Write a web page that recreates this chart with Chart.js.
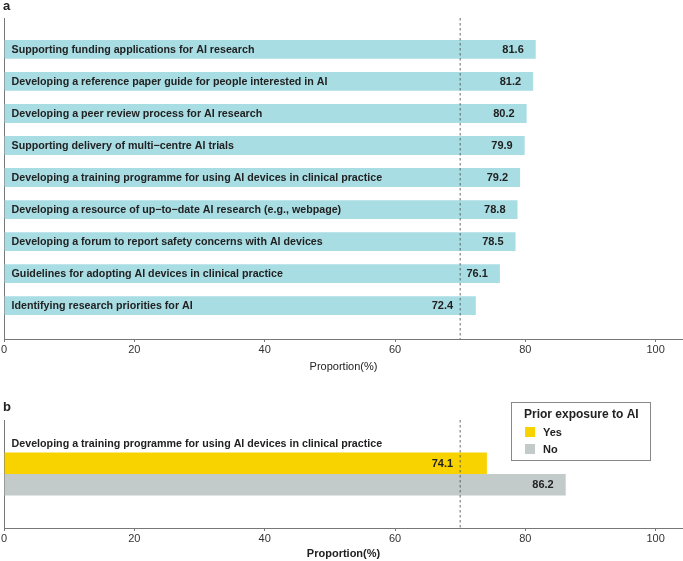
<!DOCTYPE html>
<html>
<head>
<meta charset="utf-8">
<script src="https://cdn.jsdelivr.net/npm/chart.js@4.4.1/dist/chart.umd.min.js"></script>
<style>
  body { margin: 0; background: #fff; width: 683px; height: 561px; position: relative; overflow: hidden; font-family: "Liberation Sans", Arial, sans-serif; }
  .panel { position: absolute; left: 0; width: 683px; }
  #wrapA { top: 0; height: 375px; }
  #wrapB { top: 375px; height: 186px; }
  .tag { position: absolute; left: 3px; font-weight: bold; font-size: 13px; line-height: 15px; color: #222; }
</style>
</head>
<body>
<div class="panel" id="wrapA"><canvas id="chartA"></canvas></div>
<div class="panel" id="wrapB"><canvas id="chartB"></canvas></div>
<div class="tag" style="top:-2px">a</div>
<div class="tag" style="top:399px">b</div>
<script>
const measures = [
  'Supporting funding applications for AI research',
  'Developing a reference paper guide for people interested in AI',
  'Developing a peer review process for AI research',
  'Supporting delivery of multi\u2212centre AI trials',
  'Developing a training programme for using AI devices in clinical practice',
  'Developing a resource of up\u2212to\u2212date AI research (e.g., webpage)',
  'Developing a forum to report safety concerns with AI devices',
  'Guidelines for adopting AI devices in clinical practice',
  'Identifying research priorities for AI'
];
const proportions = [81.6, 81.2, 80.2, 79.9, 79.2, 78.8, 78.5, 76.1, 72.4];

const exposureItem = ['Developing a training programme for using AI devices in clinical practice'];
const exposureGroups = ['Yes', 'No'];
const exposureYes = [74.1];
const exposureNo = [86.2];

const xTicks = [0, 20, 40, 60, 80, 100];
const threshold = 70;

const FONT = 'Liberation Sans';
const TEXT = '#222';

// dashed reference line at 70%
const thresholdLine = {
  id: 'thresholdLine',
  afterDatasetsDraw(chart) {
    const { ctx, chartArea } = chart;
    const x = chart.scales.x.getPixelForValue(threshold);
    ctx.save();
    ctx.strokeStyle = '#444';
    ctx.lineWidth = 0.8;
    ctx.setLineDash([2.5, 2.5]);
    ctx.beginPath();
    ctx.moveTo(x, chartArea.top);
    ctx.lineTo(x, chartArea.bottom);
    ctx.stroke();
    ctx.restore();
  }
};

// value label right-aligned inside bar, kept clear of the dashed line
function drawValue(ctx, chart, bar, value) {
  const lineX = chart.scales.x.getPixelForValue(threshold);
  const text = value.toFixed(1);
  ctx.font = 'bold 11px ' + FONT;
  const w = ctx.measureText(text).width;
  let end = bar.x - 12;
  if (end > lineX - 7 && end - w < lineX + 3) end = lineX - 7;
  ctx.textAlign = 'right';
  ctx.textBaseline = 'middle';
  ctx.fillStyle = TEXT;
  ctx.fillText(text, end, bar.y + 0.5);
}

const barLabelsA = {
  id: 'barLabelsA',
  afterDatasetsDraw(chart) {
    const { ctx } = chart;
    const meta = chart.getDatasetMeta(0);
    ctx.save();
    meta.data.forEach((bar, i) => {
      ctx.font = 'bold 10.7px ' + FONT;
      ctx.textAlign = 'left';
      ctx.textBaseline = 'middle';
      ctx.fillStyle = TEXT;
      ctx.fillText(measures[i], bar.base + 7, bar.y + 0.5);
      drawValue(ctx, chart, bar, proportions[i]);
    });
    ctx.restore();
  }
};

const barLabelsB = {
  id: 'barLabelsB',
  afterDatasetsDraw(chart) {
    const { ctx } = chart;
    const yesBar = chart.getDatasetMeta(0).data[0];
    const noBar = chart.getDatasetMeta(1).data[0];
    ctx.save();
    ctx.font = 'bold 10.7px ' + FONT;
    ctx.textAlign = 'left';
    ctx.textBaseline = 'middle';
    ctx.fillStyle = TEXT;
    ctx.fillText(exposureItem[0], yesBar.base + 7, yesBar.y - yesBar.height / 2 - 8);
    drawValue(ctx, chart, yesBar, exposureYes[0]);
    drawValue(ctx, chart, noBar, exposureNo[0]);
    ctx.restore();
  }
};

const boxLegend = {
  id: 'boxLegend',
  afterDraw(chart, args, opts) {
    const { ctx } = chart;
    ctx.save();
    ctx.fillStyle = '#fff';
    ctx.fillRect(opts.x, opts.y, opts.w, opts.h);
    ctx.strokeStyle = '#888';
    ctx.lineWidth = 1;
    ctx.strokeRect(opts.x + 0.5, opts.y + 0.5, opts.w, opts.h);
    ctx.fillStyle = TEXT;
    ctx.font = 'bold 12px ' + FONT;
    ctx.textAlign = 'left';
    ctx.textBaseline = 'middle';
    ctx.fillText('Prior exposure to AI', opts.x + 13, opts.y + 12.5);
    chart.data.datasets.forEach((ds, i) => {
      const cy = opts.y + 30 + i * 17;
      ctx.fillStyle = ds.backgroundColor;
      ctx.fillRect(opts.x + 14, cy - 5, 10, 10);
      ctx.fillStyle = TEXT;
      ctx.font = 'bold 11px ' + FONT;
      ctx.fillText(ds.label, opts.x + 32, cy + 0.5);
    });
    ctx.restore();
  }
};

function xAxis(height, bold) {
  return {
    type: 'linear',
    min: 0,
    max: 104.2,
    afterBuildTicks: (s) => { s.ticks = xTicks.map(v => ({ value: v })); },
    afterFit: (s) => { s.height = height; },
    ticks: { font: { family: FONT, size: 11 }, color: '#333', padding: 1, maxRotation: 0 },
    grid: { drawOnChartArea: false, drawTicks: true, tickLength: 3, color: '#777' },
    border: { color: '#777' },
    title: {
      display: true,
      text: 'Proportion(%)',
      color: TEXT,
      font: { family: FONT, size: 11, weight: bold ? 'bold' : 'normal' },
      padding: { top: 0, bottom: bold ? 0 : 1 }
    }
  };
}

new Chart(document.getElementById('chartA'), {
  type: 'bar',
  data: {
    datasets: [{
      data: proportions.map((v, i) => ({ x: v, y: i })),
      backgroundColor: '#A9DDE4',
      categoryPercentage: 0.6,
      barPercentage: 1
    }]
  },
  options: {
    indexAxis: 'y',
    responsive: true,
    maintainAspectRatio: false,
    animation: false,
    layout: { padding: { top: 18, left: 3, right: 0, bottom: 0 } },
    plugins: { legend: { display: false }, tooltip: { enabled: false } },
    scales: {
      x: xAxis(36, false),
      y: {
        type: 'linear',
        reverse: true,
        offset: false,
        min: -0.98,
        max: 9.04,
        ticks: { display: false },
        grid: { display: false, offset: false },
        border: { color: '#777' },
        afterFit: (s) => { s.width = 0; }
      }
    }
  },
  plugins: [thresholdLine, barLabelsA]
});

new Chart(document.getElementById('chartB'), {
  type: 'bar',
  data: {
    labels: exposureItem,
    datasets: [
      { label: exposureGroups[0], data: exposureYes, backgroundColor: '#F8D300', categoryPercentage: 0.4, barPercentage: 1 },
      { label: exposureGroups[1], data: exposureNo, backgroundColor: '#C2CBCA', categoryPercentage: 0.4, barPercentage: 1 }
    ]
  },
  options: {
    indexAxis: 'y',
    responsive: true,
    maintainAspectRatio: false,
    animation: false,
    layout: { padding: { top: 45, left: 3, right: 0, bottom: 0 } },
    plugins: {
      legend: { display: false },
      tooltip: { enabled: false },
      boxLegend: { x: 511, y: 27, w: 139, h: 58 }
    },
    scales: {
      x: xAxis(33, true),
      y: {
        type: 'category',
        offset: true,
        ticks: { display: false },
        grid: { display: false },
        border: { color: '#777' },
        afterFit: (s) => { s.width = 0; }
      }
    }
  },
  plugins: [thresholdLine, barLabelsB, boxLegend]
});
</script>
</body>
</html>
